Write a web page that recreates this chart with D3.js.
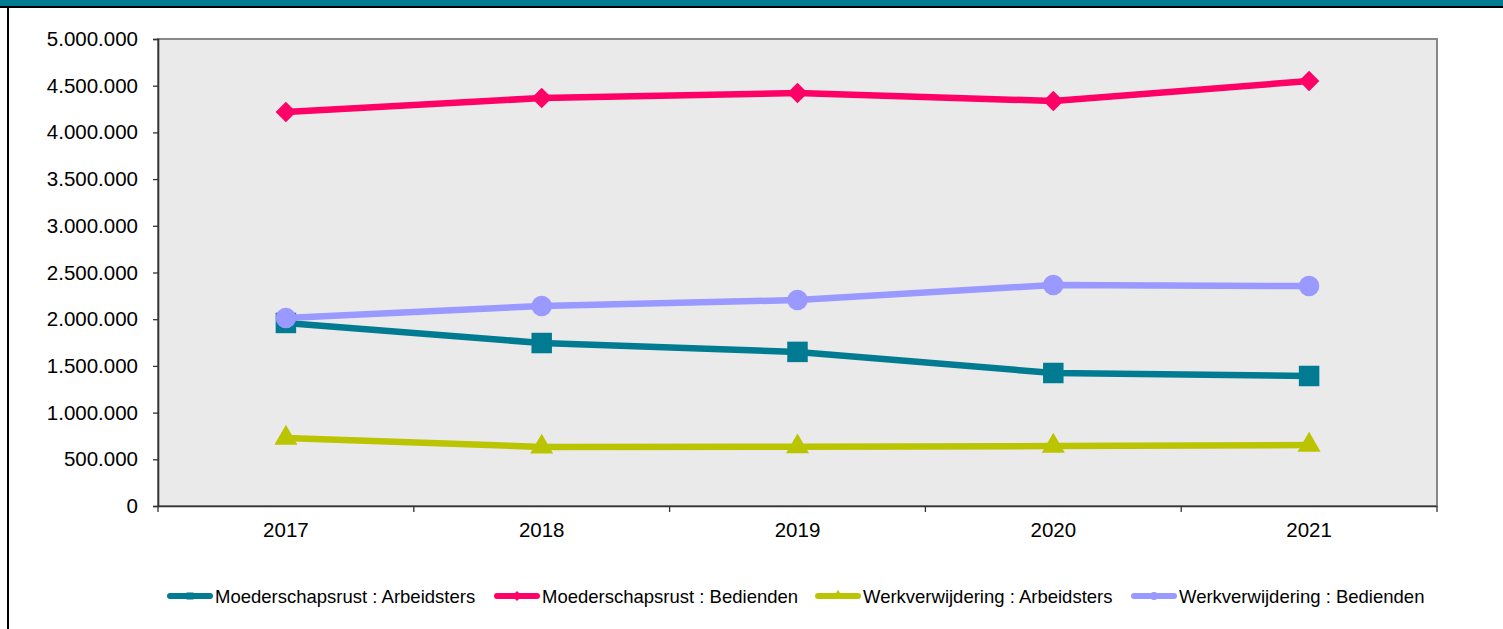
<!DOCTYPE html>
<html><head><meta charset="utf-8">
<script src="https://cdn.jsdelivr.net/npm/d3@7"></script>
<style>html,body{margin:0;padding:0;background:#fff;overflow:hidden}</style>
</head><body>
<svg id="chart" width="1503" height="629"></svg>
<script>
const years = ["2017","2018","2019","2020","2021"];
const seriesNames = ["Moederschapsrust : Arbeidsters","Moederschapsrust : Bedienden","Werkverwijdering : Arbeidsters","Werkverwijdering : Bedienden"];
const moederArbeidsters = [1960000,1745000,1650000,1424000,1392000];
const moederBedienden = [4218000,4368000,4422000,4336000,4550000];
const werkArbeidsters = [728000,632000,635000,642000,653000];
const werkBedienden = [2013000,2141000,2205000,2366000,2355000];
const yTicks = [0,500000,1000000,1500000,2000000,2500000,3000000,3500000,4000000,4500000,5000000];
const colors = ["#007B91","#FF0066","#BBC400","#9999FF"];
const symbols = [d3.symbolSquare, d3.symbolSquare, d3.symbolTriangle, d3.symbolCircle];
const symRot = [0,45,0,0];
const symSizes = [420, 210, 230, 330];
const values = [moederArbeidsters, moederBedienden, werkArbeidsters, werkBedienden];

const svg = d3.select("#chart");
svg.append("rect").attr("x",0).attr("y",0).attr("width",1503).attr("height",7).attr("fill","#007B91");
svg.append("rect").attr("x",0).attr("y",6).attr("width",1503).attr("height",2).attr("fill","#000");
svg.append("rect").attr("x",7).attr("y",6).attr("width",2).attr("height",623).attr("fill","#000");

const L=158, R=1437, T=39, B=506;
const x = d3.scaleBand().domain(years).range([L,R]);
const y = d3.scaleLinear().domain([0,5000000]).range([B,T]);
const fmt = v => d3.format(",")(v).replace(/,/g,".");

svg.append("rect").attr("x",L).attr("y",T).attr("width",R-L).attr("height",B-T)
  .attr("fill","#EAEAEA").attr("stroke","#888").attr("stroke-width",2);

const yAxis = svg.append("g").attr("transform",`translate(${L},0)`)
  .call(d3.axisLeft(y).tickValues(yTicks).tickFormat(fmt).tickSize(5).tickPadding(15));
const xAxis = svg.append("g").attr("transform",`translate(0,${B})`)
  .call(d3.axisBottom(x).tickSize(0).tickPadding(16));
const bounds = years.map(d=>x(d)).concat([R]);
svg.append("g").selectAll("line").data(bounds).join("line")
  .attr("x1",d=>d).attr("x2",d=>d).attr("y1",B).attr("y2",B+6).attr("stroke","#333").attr("stroke-width",1.3);
[yAxis,xAxis].forEach(g=>{
  g.selectAll(".domain").attr("stroke","#333").attr("stroke-width",1.6);
  g.selectAll(".tick line").attr("stroke","#333").attr("stroke-width",1.3);
  g.selectAll("text").attr("font-family","Liberation Sans, Arial, sans-serif").attr("font-size",20.5).attr("fill","#000");
});
xAxis.select(".domain").attr("d",`M${L},0.5H${R}`);

const cx = d => x(d)+x.bandwidth()/2;
const line = d3.line().x((d,i)=>cx(years[i])).y(d=>y(d));
values.forEach((vals,s)=>{
  const g = svg.append("g");
  g.append("path").attr("d",line(vals)).attr("fill","none").attr("stroke",colors[s]).attr("stroke-width",6.5).attr("stroke-linejoin","round");
  g.selectAll("path.m").data(vals).join("path").attr("class","m")
    .attr("transform",(d,i)=>`translate(${cx(years[i])},${y(d)}) rotate(${symRot[s]})`)
    .attr("d",d3.symbol().type(symbols[s]).size(symSizes[s])).attr("fill",colors[s]);
});

const legendX = [167, 494, 815, 1131];
const lg = svg.append("g");
seriesNames.forEach((n,i)=>{
  const g = lg.append("g").attr("transform",`translate(${legendX[i]},596)`);
  g.append("line").attr("x1",3).attr("x2",43).attr("y1",0).attr("y2",0).attr("stroke",colors[i]).attr("stroke-width",6).attr("stroke-linecap","round");
  g.append("path").attr("transform",`translate(23,0) rotate(${symRot[i]})`).attr("d",d3.symbol().type(symbols[i]).size(50)).attr("fill",colors[i]);
  g.append("text").attr("x",48).attr("y",6.5).text(n).attr("font-family","Liberation Sans, Arial, sans-serif").attr("font-size",18.5).attr("fill","#000");
});
</script>
</body></html>
